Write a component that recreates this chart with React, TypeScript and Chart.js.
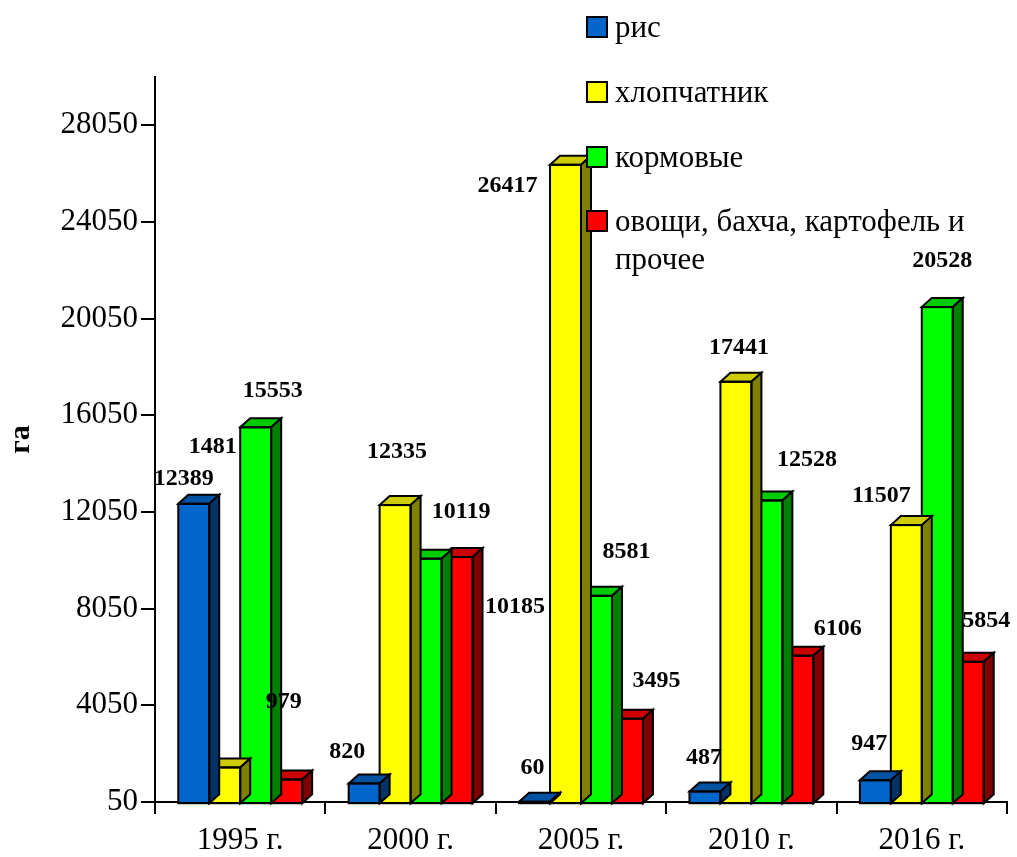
import { useEffect, useRef } from "react";
import { Chart, registerables } from "chart.js";

Chart.register(...registerables);

// Посевные площади, га
const years = ["1995 г.", "2000 г.", "2005 г.", "2010 г.", "2016 г."];
const rice = [12389, 820, 60, 487, 947];
const cotton = [1481, 12335, 26417, 17441, 11507];
const fodder = [15553, 10119, 8581, 12528, 20528];
const vegetables = [979, 10185, 3495, 6106, 5854];
const seriesNames = ["рис", "хлопчатник", "кормовые", "овощи, бахча, картофель и прочее"];
const yTicks = [50, 4050, 8050, 12050, 16050, 20050, 24050, 28050];
const yMin = 50;
const yMax = 30050;
const yTitle = "га";

// Styling
const SERIF = "'Liberation Serif', 'Times New Roman', serif";
const frontColors = ["#0066CC", "#FFFF00", "#00FF00", "#FF0000"];
const topColors = ["#0052A3", "#CCCC00", "#00CC00", "#CC0000"];
const sideColors = ["#003366", "#808000", "#008000", "#800000"];
const DEPTH_X = 10;
const DEPTH_Y = 9;

// Label placement relative to the top-centre of each bar front: [dx, dy]
const labelShift: number[][][] = [
  [[-10, -25], [-17, -32], [-2, -34], [-1, -34], [-6, -37]],
  [[-12, -321], [2, -53], [-58, 21], [3, -34], [-25, -29]],
  [[17, -37], [35, -47], [30, -44], [40, -41], [5, -46]],
  [[-3, -78], [58, 50], [29, -38], [40, -27], [18, -41]],
];

const bars3d = {
  id: "bars3d",
  afterDatasetDraw(chart: any, args: any) {
    const i = args.index;
    const meta = chart.getDatasetMeta(i);
    const ctx = chart.ctx as CanvasRenderingContext2D;
    ctx.save();
    ctx.lineWidth = 2;
    ctx.strokeStyle = "#000";
    ctx.lineJoin = "miter";
    meta.data.forEach((bar: any) => {
      const { x, y, base, width } = bar.getProps(["x", "y", "base", "width"], true);
      const x0 = x - width / 2;
      const x1 = x + width / 2;
      // top face
      ctx.beginPath();
      ctx.moveTo(x0, y);
      ctx.lineTo(x0 + DEPTH_X, y - DEPTH_Y);
      ctx.lineTo(x1 + DEPTH_X, y - DEPTH_Y);
      ctx.lineTo(x1, y);
      ctx.closePath();
      ctx.fillStyle = topColors[i];
      ctx.fill();
      ctx.stroke();
      // right side face
      ctx.beginPath();
      ctx.moveTo(x1, y);
      ctx.lineTo(x1 + DEPTH_X, y - DEPTH_Y);
      ctx.lineTo(x1 + DEPTH_X, base - DEPTH_Y);
      ctx.lineTo(x1, base);
      ctx.closePath();
      ctx.fillStyle = sideColors[i];
      ctx.fill();
      ctx.stroke();
      // front outline
      ctx.strokeRect(x0, y, width, base - y);
    });
    ctx.restore();
  },
};

const valueLabels = {
  id: "valueLabels",
  afterDatasetsDraw(chart: any) {
    const ctx = chart.ctx as CanvasRenderingContext2D;
    ctx.save();
    ctx.font = `bold 24px ${SERIF}`;
    ctx.fillStyle = "#000";
    ctx.textAlign = "center";
    ctx.textBaseline = "middle";
    chart.data.datasets.forEach((ds: any, i: number) => {
      const meta = chart.getDatasetMeta(i);
      meta.data.forEach((bar: any, j: number) => {
        const { x, y } = bar.getProps(["x", "y"], true);
        const [dx, dy] = labelShift[i][j];
        ctx.fillText(String(ds.data[j]), x + dx, y + dy);
      });
    });
    ctx.restore();
  },
};

const sideLegend = {
  id: "sideLegend",
  afterDraw(chart: any) {
    const ctx = chart.ctx as CanvasRenderingContext2D;
    const boxX = 587;
    const textX = 615;
    const rowY = [27, 92, 157, 221];
    const lineH = 38;
    const maxW = chart.width - textX - 8;
    ctx.save();
    ctx.font = `31px ${SERIF}`;
    ctx.textBaseline = "middle";
    ctx.textAlign = "left";
    chart.data.datasets.forEach((ds: any, i: number) => {
      const cy = rowY[i];
      ctx.fillStyle = frontColors[i];
      ctx.fillRect(boxX, cy - 10, 20, 20);
      ctx.lineWidth = 2;
      ctx.strokeStyle = "#000";
      ctx.strokeRect(boxX, cy - 10, 20, 20);
      // greedy word wrap
      const words = String(ds.label).split(" ");
      const lines: string[] = [];
      let cur = "";
      words.forEach((w) => {
        const t = cur ? cur + " " + w : w;
        if (ctx.measureText(t).width > maxW && cur) {
          lines.push(cur);
          cur = w;
        } else cur = t;
      });
      if (cur) lines.push(cur);
      ctx.fillStyle = "#000";
      lines.forEach((ln, k) => ctx.fillText(ln, textX, cy + 2 + k * lineH));
    });
    ctx.restore();
  },
};

export default function App() {
  const ref = useRef<HTMLCanvasElement | null>(null);

  useEffect(() => {
    if (!ref.current) return;
    const series = [rice, cotton, fodder, vegetables];
    const chart = new Chart(ref.current, {
      type: "bar",
      data: {
        labels: years,
        datasets: series.map((d, i) => ({
          label: seriesNames[i],
          data: d,
          backgroundColor: frontColors[i],
          borderWidth: 0,
          categoryPercentage: 0.727,
          barPercentage: 1,
        })),
      },
      options: {
        responsive: false,
        animation: false,
        devicePixelRatio: 1,
        layout: { padding: { top: 77, right: 10, left: 0, bottom: 0 } },
        plugins: {
          legend: { display: false },
          tooltip: { enabled: false },
        },
        scales: {
          x: {
            offset: true,
            grid: {
              offset: true,
              drawOnChartArea: false,
              drawTicks: true,
              tickLength: 12,
              color: "#000",
              lineWidth: 2,
            },
            border: { display: true, color: "#000", width: 2 },
            ticks: {
              color: "#000",
              font: { family: SERIF, size: 31 },
              padding: 8,
              maxRotation: 0,
            },
            afterFit: (s: any) => {
              s.height = 55;
            },
          },
          y: {
            min: yMin,
            max: yMax,
            grid: {
              drawOnChartArea: false,
              drawTicks: true,
              tickLength: 14,
              color: "#000",
              lineWidth: 2,
            },
            border: { display: true, color: "#000", width: 2 },
            ticks: {
              color: "#000",
              font: { family: SERIF, size: 31 },
              padding: 3,
              callback: (v: any) => String(v),
            },
            afterBuildTicks: (s: any) => {
              s.ticks = yTicks.map((v) => ({ value: v }));
            },
            afterFit: (s: any) => {
              s.width = 155;
            },
            title: {
              display: true,
              text: yTitle,
              color: "#000",
              font: { family: SERIF, size: 30, weight: "bold" },
              padding: { top: 3, bottom: 0 },
            },
          },
        },
      },
      plugins: [bars3d, valueLabels, sideLegend],
    } as any);
    return () => chart.destroy();
  }, []);

  return (
    <div style={{ position: "absolute", left: 0, top: 0, width: 1017, height: 857, background: "#fff" }}>
      <canvas ref={ref} width={1017} height={857} style={{ display: "block" }} />
    </div>
  );
}
